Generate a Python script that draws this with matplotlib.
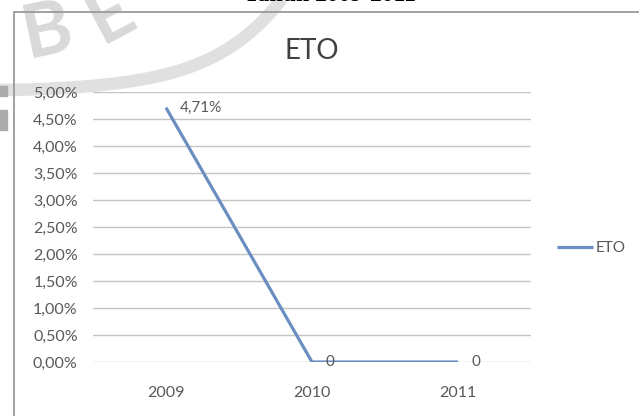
import matplotlib
matplotlib.use("Agg")
import matplotlib.pyplot as plt
import matplotlib.patches as mpatches
from matplotlib.ticker import FuncFormatter, MultipleLocator
import numpy as np

years = ["2009", "2010", "2011"]
eto = [0.0471, 0.0, 0.0]
point_labels = ["4,71%", "0", "0"]

W, H = 639, 416
fig = plt.figure(figsize=(W / 100, H / 100), dpi=100)
plt.rcParams['font.family'] = ['Lato', 'DejaVu Sans']

def px(x, y):
    # pixel position (from top-left) to figure fraction
    return x / W, 1 - y / H

# faded background watermark
fig.text(*px(16, 58), "B", fontsize=54, fontweight='bold', color='#d9d9d9',
         rotation=12, ha='left', va='baseline', zorder=0)
fig.text(*px(76, 42), "E", fontsize=54, fontweight='bold', color='#d9d9d9',
         rotation=28, ha='left', va='baseline', zorder=0)
t = np.linspace(0, 1, 80)
sx = 285 * t
sy = 90 - 30 * t ** 1.8 - 65 * t ** 5
fig.add_artist(plt.Line2D(sx / W, 1 - sy / H, color='#e0e0e0', lw=9,
                          solid_capstyle='butt', zorder=0))
for y0, h in ((86, 10), (110, 20)):
    fig.add_artist(mpatches.Rectangle(px(0, y0 + h), 7 / W, h / H,
                                      transform=fig.transFigure,
                                      color='#ababab', zorder=0))

# chart frame, running off the right and bottom edges
fig.add_artist(mpatches.Rectangle(px(14, 430), 700 / W, 418 / H,
                                  transform=fig.transFigure, fill=False,
                                  edgecolor='#9a9a9a', lw=1.3, zorder=1))

# caption above the frame, mostly cut off
fig.text(330 / W, 1.012, "Tahun 2009-2011", fontsize=17, fontweight='bold',
         family='Liberation Serif', ha='center', va='center', color='black')

ax = fig.add_axes([93 / W, 54 / H, 438 / W, 270 / H])
ax.patch.set_alpha(0)
x = np.arange(len(years))
ax.plot(x, eto, color='#6B8EC1', lw=2.3, label='ETO', zorder=3,
        solid_capstyle='butt')
for xi, v, s in zip(x, eto, point_labels):
    ax.annotate(s, (xi, v), xytext=(10, 0), textcoords='offset points',
                ha='left', va='center', fontsize=11, color='#595959')

ax.set_xlim(-0.5, 2.5)
ax.set_ylim(0, 0.05)
ax.yaxis.set_major_locator(MultipleLocator(0.005))
ax.yaxis.set_major_formatter(
    FuncFormatter(lambda v, p: f"{v * 100:.2f}%".replace('.', ',')))
ax.set_xticks(x)
ax.set_xticklabels(years)
ax.tick_params(axis='both', length=0, labelsize=11.5, colors='#595959')
ax.tick_params(axis='x', pad=17)
ax.tick_params(axis='y', pad=11)
ax.grid(axis='y', color='#c4c4c4', lw=1)
ax.set_axisbelow(True)
for sp in ax.spines.values():
    sp.set_visible(False)

ax.set_title("ETO", fontsize=20, color='#404040', pad=24)

fig.legend(loc='center left', bbox_to_anchor=(557 / W, 1 - 248 / H),
           frameon=False, fontsize=11, handlelength=2.35, handletextpad=0.2,
           borderpad=0, borderaxespad=0, labelcolor='#595959')

fig.savefig("out.png", dpi=100)
